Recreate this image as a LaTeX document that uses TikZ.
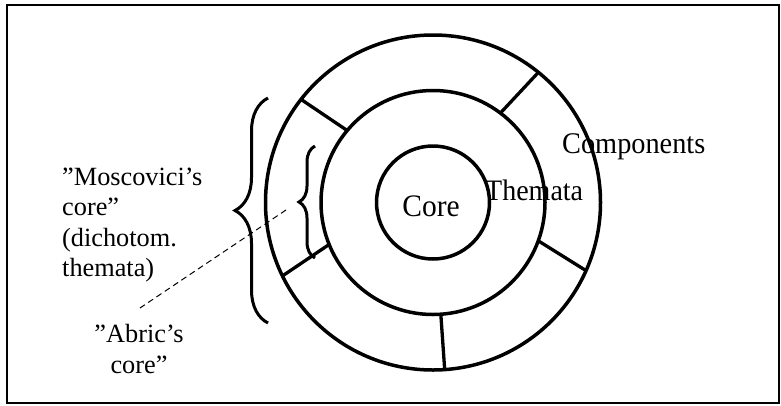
\documentclass[tikz,border=0pt]{standalone}
\usepackage{fontspec}
\setmainfont{Liberation Serif}
\usetikzlibrary{decorations.pathreplacing}

\tikzset{
  ring/.style={draw, circle, line width=3.5pt, inner sep=0pt, outer sep=0pt},
  divider/.style={line width=3.3pt},
  curly/.style={line width=3pt, decorate, decoration={brace, amplitude=#1}},
  leader/.style={line width=1pt, dash pattern=on 6pt off 4pt},
  label/.style={inner sep=0pt, font=\fontsize{26.3}{30.5}\selectfont},
}

\begin{document}
\begin{tikzpicture}[x=1pt, y=-1pt]
  \useasboundingbox (0,0) rectangle (781,405);

  % outer frame
  \draw[line width=1.4pt] (7,5) rectangle (779,403);

  % the three concentric rings
  \node[ring, minimum size=335pt] (outer)  at (433,202.5) {};
  \node[ring, minimum size=224pt] (middle) at (433,202.5) {};
  \node[ring, minimum size=113pt] (inner)  at (433,202.5) {};

  % segments of the outer ring
  \draw[divider] (outer.142)   -- (middle.140);
  \draw[divider] (outer.51)    -- (middle.53.5);
  \draw[divider] (outer.206)   -- (middle.202.6);
  \draw[divider] (outer.-24.8) -- (middle.-20.5);
  \draw[divider] (outer.-86.7) -- (middle.-86);

  % ring labels
  \node[label, anchor=base, font=\fontsize{29.5}{34}\selectfont] (core) at (431,216.7)
    {\scalebox{1}[1.06]{Core}};
  \node[label, anchor=base west, font=\fontsize{28}{32}\selectfont] (thematalbl) at (485,200)
    {\scalebox{1}[1.06]{Themata}};
  \node[label, anchor=base west, font=\fontsize{28.3}{32}\selectfont] (complbl) at (562,153)
    {\scalebox{1}[1.06]{Components}};

  % braces on the left
  \coordinate (bigTop) at (268,98);
  \coordinate (bigBot) at (268,323);
  \draw[curly=33pt] (bigBot) -- (bigTop);
  \coordinate (smallTop) at (315,146);
  \coordinate (smallBot) at (315,258);
  \draw[curly=16pt] (smallBot) -- (smallTop);

  % left-hand texts
  \node[label, anchor=north west, align=left] (mosc) at (62,167.5)
    {”Moscovici’s\\core”\\(dichotom.\\themata)};
  \node[label, anchor=north, align=center] (abric) at (139,324.5)
    {”Abric’s\\core”};

  % dashed leader to the small brace
  \coordinate (leadA) at (286,210);
  \coordinate (leadB) at (140,308);
  \draw[leader] (leadA) -- (leadB);
\end{tikzpicture}
\end{document}
